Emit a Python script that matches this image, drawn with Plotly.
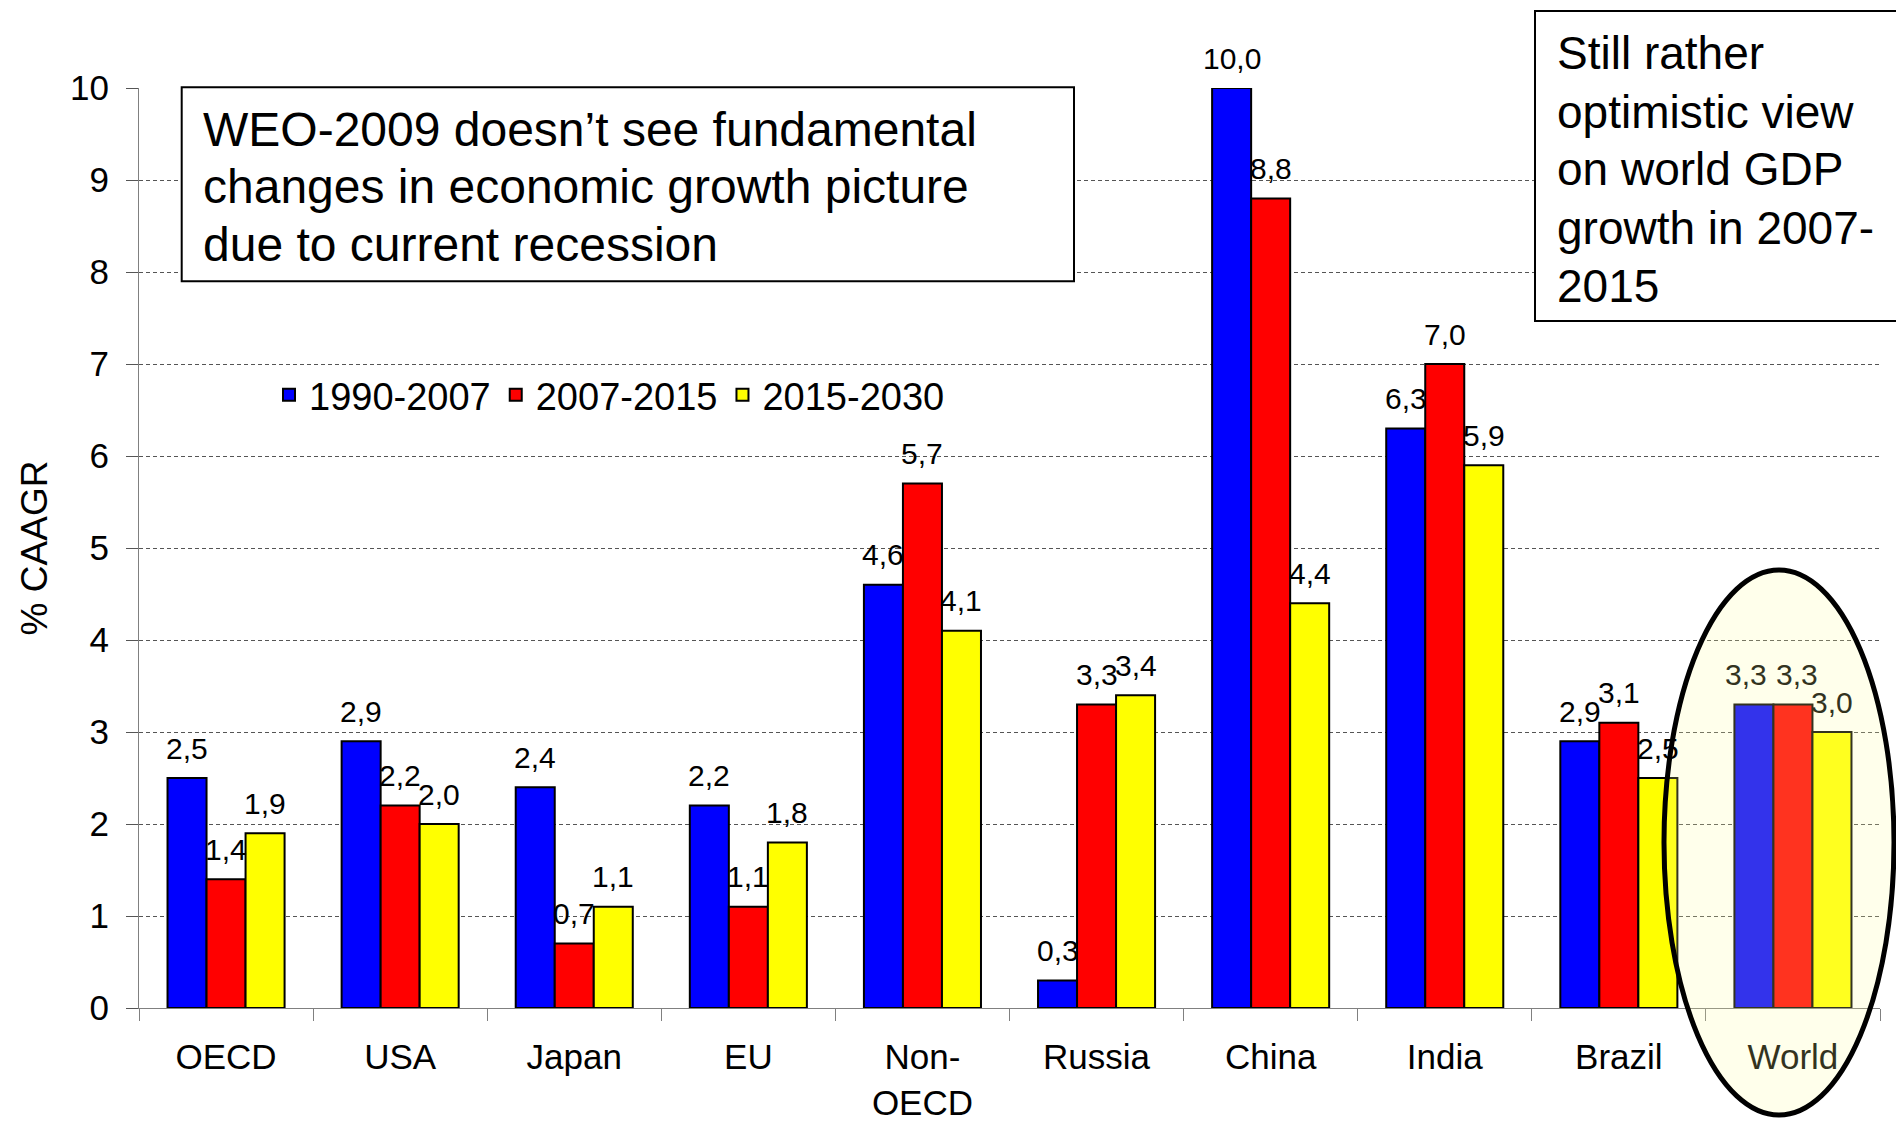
import plotly.graph_objects as go

# Average annual GDP growth by region (% CAAGR)
categories = ["OECD", "USA", "Japan", "EU", "Non-<br>OECD", "Russia", "China", "India", "Brazil", "World"]
series_names = ["1990-2007", "2007-2015", "2015-2030"]
growth_1990_2007 = [2.5, 2.9, 2.4, 2.2, 4.6, 0.3, 10.0, 6.3, 2.9, 3.3]
growth_2007_2015 = [1.4, 2.2, 0.7, 1.1, 5.7, 3.3, 8.8, 7.0, 3.1, 3.3]
growth_2015_2030 = [1.9, 2.0, 1.1, 1.8, 4.1, 3.4, 4.4, 5.9, 2.5, 3.0]
y_ticks = [0, 1, 2, 3, 4, 5, 6, 7, 8, 9, 10]

note_left = ["WEO-2009 doesn’t see fundamental",
             "changes in economic growth picture",
             "due to current recession"]
note_right = ["Still rather", "optimistic view", "on world GDP",
              "growth in 2007-", "2015"]

series_values = [growth_1990_2007, growth_2007_2015, growth_2015_2030]
series_colors = ["#0000FF", "#FF0000", "#FFFF00"]

FONT = "Arial, Liberation Sans, sans-serif"
BARGAP = 0.3276
BAR_W = (1 - BARGAP) / 3

# plot-area geometry in pixels, used to place paper-referenced decorations
PLOT_L, PLOT_R, PLOT_T, PLOT_B = 139, 1880, 88, 1008


def px_x(x):
    return (x - PLOT_L) / (PLOT_R - PLOT_L)


def px_y(y):
    return (PLOT_B - y) / (PLOT_B - PLOT_T)


# translucent highlight over the World group
HL_RGB = (255, 255, 153)
HL_ALPHA = 0.2


def blend(rgb, over=HL_RGB, a=HL_ALPHA):
    r, g, b = (round(c * (1 - a) + o * a) for c, o in zip(rgb, over))
    return f"rgb({r},{g},{b})"


def fmt(v):
    return f"{v:.1f}".replace(".", ",")


# small horizontal nudges so equal neighbouring labels don't collide
label_nudge = {("World", 0): -8, ("World", 1): 4}

fig = go.Figure()
for name, vals, col in zip(series_names, series_values, series_colors):
    fig.add_trace(go.Bar(
        x=categories, y=vals, name=name,
        marker=dict(color=col, line=dict(color="black", width=2)),
        cliponaxis=False,
    ))

# value labels above each bar
annotations = []
for j, vals in enumerate(series_values):
    for i, v in enumerate(vals):
        inside = categories[i] == "World"
        annotations.append(dict(
            x=i + (j - 1) * BAR_W, y=v, xref="x", yref="y",
            text=fmt(v), showarrow=False, yanchor="middle", yshift=30,
            xshift=label_nudge.get((categories[i], j), 0),
            font=dict(family=FONT, size=30, color=blend((0, 0, 0)) if inside else "black"),
        ))

# commentary boxes, one annotation per line for tighter leading
for k, line in enumerate(note_left):
    annotations.append(dict(
        x=px_x(201), y=px_y(129.5 + k * 57.4), xref="paper", yref="paper",
        xanchor="left", yanchor="middle", showarrow=False, text=line,
        font=dict(family=FONT, size=48, color="black"),
    ))
for k, line in enumerate(note_right):
    annotations.append(dict(
        x=px_x(1555), y=px_y(53.5 + k * 58.0), xref="paper", yref="paper",
        xanchor="left", yanchor="middle", showarrow=False, text=line,
        font=dict(family=FONT, size=46, color="black"),
    ))

shapes = [
    dict(type="rect", xref="paper", yref="paper",
         x0=px_x(181.7), x1=px_x(1074), y0=px_y(281.3), y1=px_y(87.3),
         line=dict(color="black", width=2), fillcolor="white", layer="above"),
    dict(type="rect", xref="paper", yref="paper",
         x0=px_x(1535), x1=px_x(1910), y0=px_y(321), y1=px_y(11),
         line=dict(color="black", width=2), fillcolor="white", layer="above"),
    dict(type="circle", xref="paper", yref="paper",
         x0=px_x(1664), x1=px_x(1894), y0=px_y(1115), y1=px_y(570),
         line=dict(color="black", width=5),
         fillcolor=f"rgba({HL_RGB[0]},{HL_RGB[1]},{HL_RGB[2]},{HL_ALPHA})", layer="above"),
]

fig.update_layout(
    width=1896, height=1123,
    margin=dict(l=PLOT_L, r=1896 - PLOT_R, t=PLOT_T, b=1123 - PLOT_B, autoexpand=False),
    paper_bgcolor="white", plot_bgcolor="white",
    barmode="group", bargap=BARGAP, bargroupgap=0,
    font=dict(family=FONT, color="black"),
    showlegend=True,
    legend=dict(orientation="h", x=px_x(269), y=px_y(395), xanchor="left", yanchor="middle",
                font=dict(family=FONT, size=38), bgcolor="rgba(0,0,0,0)",
                itemclick=False, traceorder="normal"),
    annotations=annotations,
    shapes=shapes,
)

fig.update_yaxes(
    range=[0, 10], tickvals=y_ticks, ticks="outside", ticklen=12, tickcolor="#555555",
    showline=True, linecolor="#808080", linewidth=1,
    showgrid=True, gridcolor="#555555", gridwidth=1, griddash="4px,3px",
    zeroline=False, ticklabelstandoff=10,
    tickfont=dict(family=FONT, size=35),
    title=dict(text="% CAAGR", font=dict(family=FONT, size=37), standoff=11),
)
fig.update_xaxes(
    type="category", ticks="outside", tickson="boundaries", ticklen=12, tickcolor="#808080",
    showline=True, linecolor="#808080", linewidth=1, showgrid=False,
    ticklabelstandoff=18,
    tickfont=dict(family=FONT, size=35),
)

fig.write_html("out.html")
